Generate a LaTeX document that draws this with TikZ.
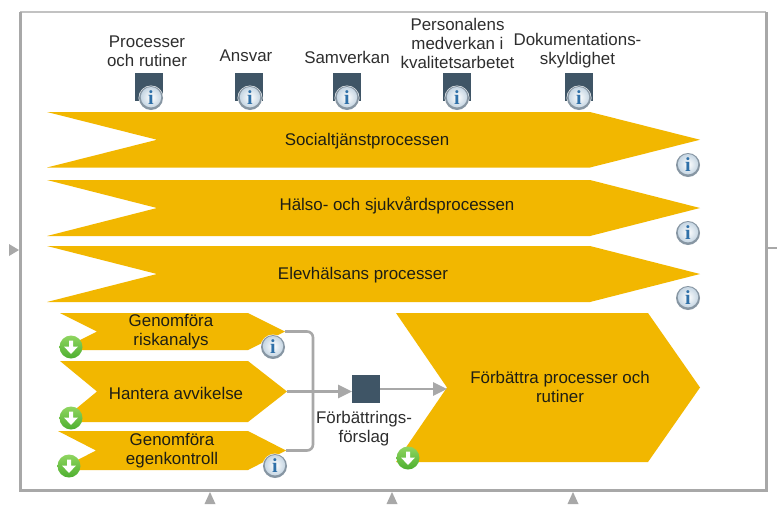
\documentclass[tikz,border=0pt]{standalone}
\usepackage{fontspec}
\setmainfont{Liberation Sans}
\newfontfamily\infofont{Liberation Serif}
\usetikzlibrary{arrows.meta}
\definecolor{chev}{HTML}{F2B700}
\definecolor{slate}{HTML}{3F5566}
\definecolor{linegray}{HTML}{A8A8A8}
\definecolor{infoblue}{HTML}{2F70A8}
\definecolor{inforing}{HTML}{8796A3}
\definecolor{infofill}{HTML}{C6D6E3}
\definecolor{greendark}{HTML}{4DAF2F}
\definecolor{greenlight}{HTML}{8FD560}
\definecolor{txt}{HTML}{1E1E14}
\definecolor{lbl}{HTML}{2E2E2E}
\tikzset{
  chevron/.style={fill=chev,draw=none},
  chevtext/.style={font=\fontsize{16.9}{19}\selectfont,text=txt,align=center,inner sep=0pt},
  toplabel/.style={font=\fontsize{16.9}{19}\selectfont,text=lbl,align=center,inner sep=0pt},
  conn/.style={draw=linegray,line width=2.6pt,rounded corners=6pt},
  connarrow/.style={draw=linegray,line width=2.6pt,-{Triangle[length=14pt,width=13pt]}},
  sqr/.style={fill=slate,draw=none,minimum size=28pt,inner sep=0pt,outer sep=0pt},
  framebar/.style={draw=linegray,line width=3pt},
  frametop/.style={draw=linegray!70,line width=1.5pt},
  stub/.style={fill=linegray,draw=none},
}
% #1 name, #2 left, #3 top, #4 bottom, #5 notch x, #6 shoulder x, #7 tip x
\newcommand{\chevshape}[7]{%
  \coordinate (#1-tip) at (#7,{(#3+#4)/2});
  \coordinate (#1-notch) at (#5,{(#3+#4)/2});
  \fill[chevron] (#2,#3) -- (#6,#3) -- (#1-tip) -- (#6,#4) -- (#2,#4) -- (#1-notch) -- cycle;
}
% #1 name, #2 x, #3 y
\newcommand{\infoicon}[3]{%
  \fill[white] (#2,#3) circle (12.5);
  \fill[inforing] (#2,#3) circle (12);
  \shade[inner color=white,outer color=infofill] (#2,{#3-0.8}) circle (10.2);
  \node[inner sep=0pt,text=infoblue,font=\infofont\bfseries\fontsize{20}{20}\selectfont] (#1) at (#2,{#3-0.3}) {i};
}
\newcommand{\greenicon}[3]{%
  \shade[top color=greenlight,bottom color=greendark] (#2,#3) circle (11.5);
  \coordinate (#1) at (#2,#3);
  \fill[white] ({#2-2},{#3-6.5}) -- ({#2+2},{#3-6.5}) -- ({#2+2},{#3-0.5}) -- ({#2+7},{#3-0.5}) -- (#2,{#3+7}) -- ({#2-7},{#3-0.5}) -- ({#2-2},{#3-0.5}) -- cycle;
}
\begin{document}
\begin{tikzpicture}[x=1pt,y=-1pt]
\useasboundingbox (0,0) rectangle (777,504);
\fill[white] (0,0) rectangle (777,504);
% frame
\coordinate (fTL) at (20,12);
\coordinate (fTR) at (766,12);
\coordinate (fBR) at (766,490);
\coordinate (fBL) at (20,490);
\draw[frametop] (fTL) -- (fTR);
\draw[framebar] (fTL) -- (fBL) -- (fBR) -- (fTR);
% side stubs and bottom markers
\coordinate (stubR) at (777,248);
\draw[draw=linegray,line width=1.5pt] (766,248) -- (stubR);
\fill[stub] (9,244) -- (19,250) -- (9,256) -- cycle;
\fill[stub] (204.5,504) -- (210,492) -- (215.5,504) -- cycle;
\fill[stub] (386.5,504) -- (392,492) -- (397.5,504) -- cycle;
\fill[stub] (567.5,504) -- (573,492) -- (578.5,504) -- cycle;
% top labels
\node[toplabel] (l1) at (147,51) {Processer\\och rutiner};
\node[toplabel] (l2) at (246,56) {Ansvar};
\node[toplabel] (l3) at (347,57) {Samverkan};
\node[toplabel] (l4) at (457.5,43) {Personalens\\medverkan i\\kvalitetsarbetet};
\node[toplabel] (l5) at (577.5,51) {Dokumentations-\\skyldighet};
% top squares
\node[sqr] (s1) at (149,87) {};
\node[sqr] (s2) at (249,87) {};
\node[sqr] (s3) at (347,87) {};
\node[sqr] (s4) at (456.5,87) {};
\node[sqr] (s5) at (579,87) {};
\infoicon{i1}{151}{98}
\infoicon{i2}{250}{98}
\infoicon{i3}{347}{98}
\infoicon{i4}{457}{98}
\infoicon{i5}{579}{98}
% large chevrons
\chevshape{c1}{47}{112}{167.5}{157}{590}{700}
\chevshape{c2}{47}{180}{236}{157}{590}{700}
\chevshape{c3}{47}{246}{302}{157}{590}{700}
\node[chevtext] (t1) at (367,141) {Socialtjänstprocessen};
\node[chevtext] (t2) at (397,205) {Hälso- och sjukvårdsprocessen};
\node[chevtext] (t3) at (363,275) {Elevhälsans processer};
\infoicon{i6}{688}{165}
\infoicon{i7}{688}{233}
\infoicon{i8}{688}{298}
% lower chevrons
\chevshape{r}{60}{313}{350}{97}{248}{285}
\chevshape{h}{60}{361}{422}{97}{248}{287}
\chevshape{e}{58}{431}{470}{96}{248}{286}
\chevshape{f}{396}{313}{462}{447}{648}{700}
\node[chevtext] (t4) at (171,332) {Genomföra\\riskanalys};
\node[chevtext] (t5) at (176,393) {Hantera avvikelse};
\node[chevtext] (t6) at (172,451) {Genomföra\\egenkontroll};
\node[chevtext] (t7) at (560,387) {Förbättra processer och\\rutiner};
% connectors
\coordinate (join) at (313,390);
\node[sqr] (sq) at (366,389) {};
\draw[conn] (r-tip) -| (join);
\draw[conn] (e-tip) -| (join);
\draw[connarrow] (h-tip) -- (h-tip -| sq.west);
\draw[connarrow] (sq.east) -- (sq.east -| f-notch);
\node[toplabel] (t8) at (364,429) {Förbättrings-\\förslag};
% icons on lower chevrons
\infoicon{i9}{273}{347}
\infoicon{i10}{275}{466}
\greenicon{g1}{71}{347}
\greenicon{g2}{71}{418}
\greenicon{g3}{69}{466}
\greenicon{g4}{408}{458}
\end{tikzpicture}
\end{document}
